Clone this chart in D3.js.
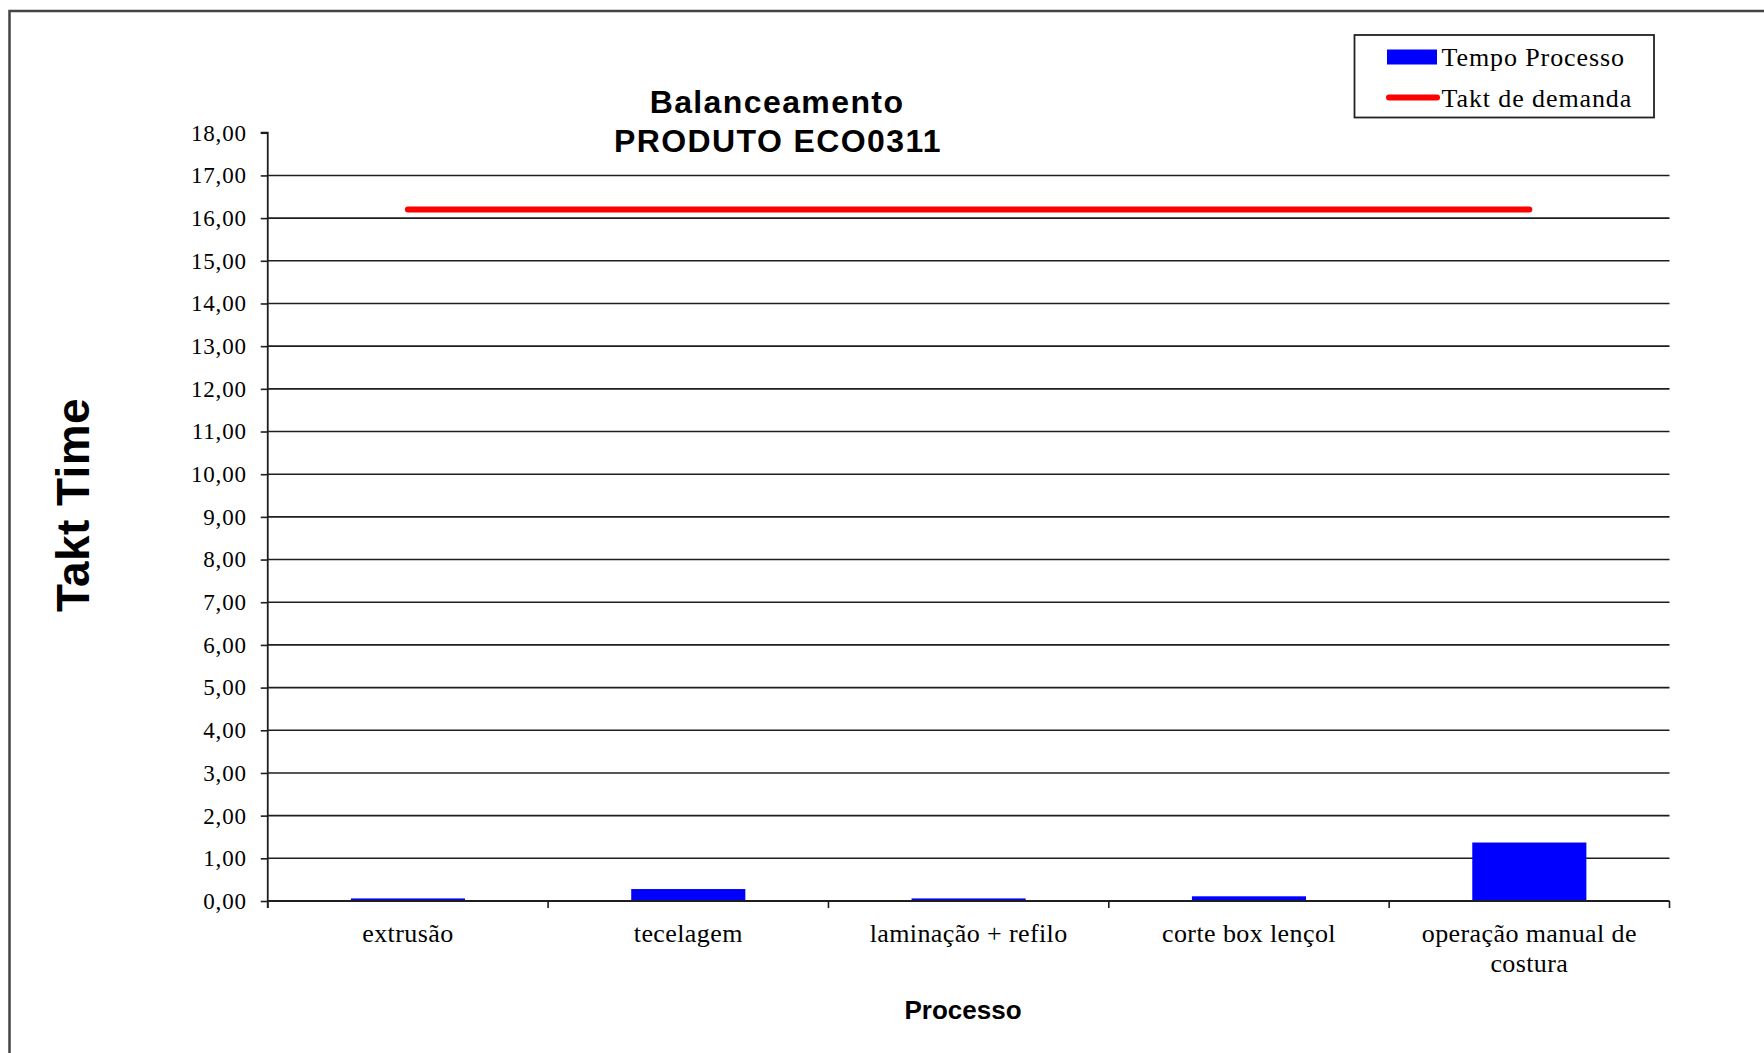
<!DOCTYPE html>
<html>
<head>
<meta charset="utf-8">
<script src="https://cdn.jsdelivr.net/npm/d3@7"></script>
<style>
  html, body { margin: 0; padding: 0; background: #fff; }
  svg { display: block; }
</style>
</head>
<body>
<script>
// Balanceamento — tempo de processo por etapa vs. takt de demanda
const categories = ["extrusão", "tecelagem", "laminação + refilo", "corte box lençol", "operação manual de costura"];
const tempoProcesso = [0.06, 0.28, 0.06, 0.11, 1.37];
const taktDemanda = [16.2, 16.2, 16.2, 16.2, 16.2];
const yTicks = d3.range(0, 19, 1);
const legendLabels = ["Tempo Processo", "Takt de demanda"];

const W = 1764, H = 1053;
const plot = { left: 267.75, right: 1669.5, top: 132.75, bottom: 901 };

const svg = d3.select("body").append("svg").attr("width", W).attr("height", H);

// outer chart frame (runs past the right and bottom edges)
svg.append("rect")
  .attr("x", 9.5).attr("y", 11)
  .attr("width", 1800).attr("height", 1100)
  .attr("fill", "#fff").attr("stroke", "#444").attr("stroke-width", 2.5);

const x = d3.scaleBand().domain(categories).range([plot.left, plot.right]).padding(0);
const y = d3.scaleLinear().domain([0, 18]).range([plot.bottom, plot.top]);

const ptBR = d3.formatLocale({ decimal: ",", thousands: ".", grouping: [3], currency: ["R$", ""] });
const fmt = ptBR.format(".2f");

const serif = "'Liberation Serif', 'Times New Roman', serif";
const sans = "'Liberation Sans', Arial, sans-serif";
const lineColor = "#1e1e1e";

// horizontal gridlines
svg.append("g").selectAll("line")
  .data(yTicks.filter(d => d > 0 && d < 18))
  .join("line")
  .attr("x1", plot.left).attr("x2", plot.right)
  .attr("y1", d => y(d)).attr("y2", d => y(d))
  .attr("stroke", lineColor).attr("stroke-width", 1.6);

// bars
const barW = x.bandwidth() * 0.407;
svg.append("g").selectAll("rect")
  .data(categories.map((c, i) => ({ c, v: tempoProcesso[i] })))
  .join("rect")
  .attr("x", d => x(d.c) + (x.bandwidth() - barW) / 2)
  .attr("width", barW)
  .attr("y", d => y(d.v))
  .attr("height", d => y(0) - y(d.v))
  .attr("fill", "#0000ff");

// y axis
const yAxis = d3.axisLeft(y).tickValues(yTicks).tickSize(7).tickPadding(14).tickFormat(fmt);
const gy = svg.append("g").attr("transform", `translate(${plot.left},0)`).call(yAxis);
gy.select(".domain").attr("stroke", lineColor).attr("stroke-width", 1.8)
  .attr("d", `M-7,${plot.top}H0V${plot.bottom + 7}`);
gy.selectAll(".tick line").attr("stroke", lineColor).attr("stroke-width", 1.6);
gy.selectAll(".tick text")
  .attr("font-family", serif).attr("font-size", 23).attr("fill", "#000")
  .attr("letter-spacing", 0.8);

// x axis: baseline with ticks at category boundaries
const bounds = categories.map(c => x(c)).concat([plot.right]);
const gx = svg.append("g");
gx.append("line")
  .attr("x1", plot.left).attr("x2", plot.right)
  .attr("y1", plot.bottom).attr("y2", plot.bottom)
  .attr("stroke", lineColor).attr("stroke-width", 1.8);
gx.selectAll("line.tk").data(bounds).join("line").attr("class", "tk")
  .attr("x1", d => d).attr("x2", d => d)
  .attr("y1", plot.bottom).attr("y2", plot.bottom + 7)
  .attr("stroke", lineColor).attr("stroke-width", 1.6);

// category labels, wrapped to the slot width
const labels = gx.selectAll("text.cat").data(categories).join("text").attr("class", "cat")
  .attr("x", d => x(d) + x.bandwidth() / 2)
  .attr("y", 941.5)
  .attr("text-anchor", "middle")
  .attr("font-family", serif).attr("font-size", 26).attr("letter-spacing", 0.4)
  .attr("fill", "#000");
labels.each(function (d) {
  const t = d3.select(this);
  const words = d.split(" ");
  const cx = x(d) + x.bandwidth() / 2;
  let line = [];
  let ts = t.append("tspan").attr("x", cx).attr("dy", 0);
  words.forEach(w => {
    line.push(w);
    ts.text(line.join(" "));
    if (ts.node().getComputedTextLength() > 250 && line.length > 1) {
      line.pop();
      ts.text(line.join(" "));
      line = [w];
      ts = t.append("tspan").attr("x", cx).attr("dy", 30.5).text(w);
    }
  });
});

// takt line across category centres
const takt = d3.line()
  .x((d, i) => x(categories[i]) + x.bandwidth() / 2)
  .y(d => y(d));
svg.append("path")
  .datum(taktDemanda)
  .attr("d", takt)
  .attr("fill", "none").attr("stroke", "#ff0000")
  .attr("stroke-width", 6).attr("stroke-linecap", "round");

// titles
const title = svg.append("text")
  .attr("text-anchor", "middle")
  .attr("font-family", sans).attr("font-weight", "bold").attr("font-size", 32)
  .attr("letter-spacing", 1.4).attr("fill", "#000");
title.append("tspan").attr("x", 777).attr("y", 112.5).text("Balanceamento");
title.append("tspan").attr("x", 778).attr("y", 152).text("PRODUTO ECO0311");

svg.append("text")
  .attr("transform", `translate(89,505) rotate(-90)`)
  .attr("text-anchor", "middle")
  .attr("font-family", sans).attr("font-weight", "bold").attr("font-size", 46)
  .attr("letter-spacing", 0.4)
  .attr("fill", "#000")
  .text("Takt Time");

svg.append("text")
  .attr("x", 963).attr("y", 1019)
  .attr("text-anchor", "middle")
  .attr("font-family", sans).attr("font-weight", "bold").attr("font-size", 26)
  .attr("fill", "#000")
  .text("Processo");

// legend
const lg = svg.append("g");
lg.append("rect")
  .attr("x", 1354.5).attr("y", 35)
  .attr("width", 299.5).attr("height", 82.5)
  .attr("fill", "#fff").attr("stroke", "#222").attr("stroke-width", 1.8);
lg.append("rect")
  .attr("x", 1387).attr("y", 49.5).attr("width", 50).attr("height", 15)
  .attr("fill", "#0000ff");
lg.append("line")
  .attr("x1", 1389).attr("x2", 1437).attr("y1", 97.5).attr("y2", 97.5)
  .attr("stroke", "#ff0000").attr("stroke-width", 6).attr("stroke-linecap", "round");
lg.selectAll("text").data(legendLabels).join("text")
  .attr("x", 1441.5)
  .attr("y", (d, i) => i === 0 ? 65.5 : 106.5)
  .attr("font-family", serif).attr("font-size", 26).attr("letter-spacing", 0.9)
  .attr("fill", "#000")
  .text(d => d);
</script>
</body>
</html>
